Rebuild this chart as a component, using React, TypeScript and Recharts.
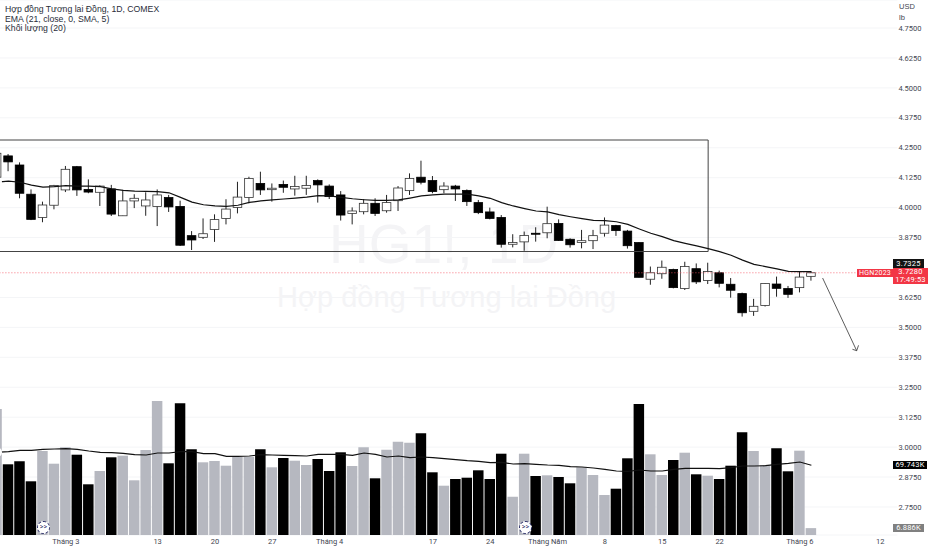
import React from 'react';
import {
  ComposedChart, Bar, Line, XAxis, YAxis, CartesianGrid, Cell, ReferenceLine,
} from 'recharts';

// day -1 is the candle cut off on the left edge, rows after day 70 are empty future slots
const FIRST_DAY = -1;
const SLOT_COUNT = 79;

const opens = [4.127, 4.216, 4.178, 4.056, 3.959, 4.010, 4.074, 4.171, 4.076, 4.064, 4.078, 3.966, 4.028, 4.007, 4.005, 4.042, 4.005, 3.883, 3.876, 3.909, 3.955, 4.001, 4.042, 4.101, 4.075, 4.097, 4.078, 4.081, 4.113, 4.090, 4.053, 3.976, 3.983, 4.018, 3.987, 4.029, 4.071, 4.127, 4.113, 4.075, 4.090, 4.072, 4.021, 3.982, 3.959, 3.847, 3.857, 3.893, 3.895, 3.934, 3.868, 3.854, 3.862, 3.893, 3.925, 3.902, 3.854, 3.701, 3.724, 3.742, 3.662, 3.745, 3.696, 3.728, 3.680, 3.641, 3.567, 3.591, 3.681, 3.662, 3.666, 3.713];
const highs = [4.232, 4.224, 4.189, 4.076, 4.025, 4.095, 4.174, 4.174, 4.118, 4.093, 4.095, 4.074, 4.056, 4.064, 4.076, 4.053, 4.029, 3.902, 3.955, 3.972, 4.035, 4.108, 4.129, 4.150, 4.101, 4.113, 4.133, 4.133, 4.118, 4.097, 4.069, 4.001, 4.035, 4.039, 4.053, 4.090, 4.143, 4.196, 4.132, 4.106, 4.095, 4.076, 4.032, 4.000, 3.969, 3.889, 3.900, 3.918, 4.004, 3.951, 3.872, 3.907, 3.907, 3.959, 3.928, 3.907, 3.855, 3.754, 3.779, 3.745, 3.774, 3.767, 3.770, 3.737, 3.706, 3.645, 3.619, 3.684, 3.712, 3.673, 3.734, 3.734];
const lows = [4.121, 4.152, 4.039, 3.948, 3.939, 3.993, 4.065, 4.049, 4.060, 4.007, 3.965, 3.965, 3.998, 3.966, 3.923, 3.982, 3.840, 3.823, 3.869, 3.857, 3.930, 3.976, 4.018, 4.053, 4.025, 4.062, 4.050, 4.053, 4.021, 4.036, 3.946, 3.930, 3.972, 3.965, 3.979, 3.986, 4.053, 4.097, 4.060, 4.060, 4.028, 4.007, 3.973, 3.951, 3.833, 3.834, 3.820, 3.858, 3.872, 3.861, 3.833, 3.830, 3.827, 3.879, 3.882, 3.829, 3.709, 3.678, 3.703, 3.663, 3.656, 3.681, 3.681, 3.667, 3.624, 3.545, 3.548, 3.587, 3.628, 3.623, 3.646, 3.695];
const closes = [4.227, 4.191, 4.060, 3.951, 4.011, 4.092, 4.160, 4.074, 4.065, 4.090, 3.973, 4.028, 4.039, 4.032, 4.053, 4.003, 3.843, 3.865, 3.891, 3.950, 3.994, 4.044, 4.122, 4.074, 4.081, 4.085, 4.088, 4.092, 4.095, 4.046, 3.969, 3.986, 4.018, 3.976, 4.021, 4.082, 4.122, 4.106, 4.067, 4.090, 4.078, 4.025, 3.979, 3.955, 3.847, 3.854, 3.884, 3.889, 3.933, 3.863, 3.845, 3.862, 3.883, 3.927, 3.904, 3.841, 3.709, 3.728, 3.751, 3.666, 3.754, 3.690, 3.733, 3.684, 3.655, 3.561, 3.588, 3.683, 3.663, 3.638, 3.710, 3.728];
const ema21 = [4.106, 4.111, 4.106, 4.094, 4.086, 4.088, 4.092, 4.090, 4.090, 4.088, 4.078, 4.072, 4.069, 4.068, 4.067, 4.062, 4.043, 4.023, 4.012, 4.007, 4.005, 4.010, 4.022, 4.028, 4.032, 4.036, 4.040, 4.044, 4.050, 4.049, 4.043, 4.037, 4.033, 4.030, 4.030, 4.032, 4.040, 4.049, 4.053, 4.056, 4.057, 4.056, 4.049, 4.039, 4.021, 4.007, 3.996, 3.986, 3.982, 3.971, 3.962, 3.954, 3.947, 3.946, 3.941, 3.930, 3.911, 3.893, 3.879, 3.862, 3.851, 3.840, 3.829, 3.816, 3.801, 3.781, 3.763, 3.754, 3.744, 3.734, 3.733, 3.7325];
const volumes = [126, 70.7, 73.7, 53.7, 84, 71.3, 87.7, 80.3, 50.7, 64, 77.7, 79.3, 54.7, 85, 134, 71.7, 131.7, 85.7, 72.7, 74, 69.3, 78.3, 78.3, 85.7, 67.7, 77, 74.3, 70, 76, 64, 82.7, 69, 87.7, 56.7, 85.3, 93.3, 92.3, 101.7, 62.7, 49.3, 56, 57.3, 64.7, 56, 81.3, 38.3, 81.3, 59, 59.7, 58, 51.7, 67.7, 60, 40, 46.3, 76.7, 131, 80.7, 60, 75, 82.3, 60.7, 59.3, 56, 69.3, 102.7, 84, 70, 86.7, 63.7, 84.3, 6.886];
const volumeMa = [82.7, 83.3, 84.7, 84.7, 85.7, 86, 86.3, 85.7, 84, 82.7, 82.3, 81.7, 80.3, 80, 82, 82, 83.3, 83.3, 81.3, 81.3, 78.7, 78.7, 79, 80.3, 80, 79.7, 79.3, 79, 80.7, 80.7, 80.7, 79.7, 82, 80.7, 78, 79, 77.3, 78, 77.3, 76.3, 75.3, 74.3, 73.7, 72.3, 72.7, 71, 71.3, 70.7, 70, 69.7, 68.3, 68, 67, 65.7, 64, 63.7, 65, 64, 64, 65.7, 66.7, 66.7, 66.7, 66.3, 67.3, 69, 69, 69.3, 70.7, 71.7, 73, 69.743];

const priceTicks = [4.75, 4.625, 4.5, 4.375, 4.25, 4.125, 4.0, 3.875, 3.625, 3.5, 3.375, 3.25, 3.125, 3.0, 2.875, 2.75];
const dateTicks = [5, 13, 18, 23, 28, 37, 42, 47, 52, 57, 62, 69, 76];
const dateLabels = ['Tháng 3', '13', '20', '27', 'Tháng 4', '17', '24', 'Tháng Năm', '8', '15', '22', 'Tháng 6', '12'];

// drawings on the chart
const boxTop = 4.2824;
const boxBottom = 3.8168;
const boxLeftDay = -1.5;
const boxRightDay = 61;
const lastPrice = 3.728;
const arrowFrom = { day: 70.98, price: 3.706 };
const arrowTip = { day: 73.95, price: 3.4026 };
const arrowBarbs = [{ day: 73.58, price: 3.4085 }, { day: 74.11, price: 3.425 }];
const boxEdges = [
  [{ x: boxLeftDay, y: boxTop }, { x: boxRightDay, y: boxTop }],
  [{ x: boxLeftDay, y: boxBottom }, { x: boxRightDay, y: boxBottom }],
  [{ x: boxRightDay, y: boxTop }, { x: boxRightDay, y: boxBottom }],
];

const rows = Array.from({ length: SLOT_COUNT }, (_, n) => ({
  day: n + FIRST_DAY,
  open: opens[n],
  high: highs[n],
  low: lows[n],
  close: closes[n],
  ema: ema21[n],
  volume: volumes[n],
  volumeMa: volumeMa[n],
}));

const AXIS_TEXT = '#434651';
const GREY_VOL = '#b6b8c0';

function Candle(props: any) {
  const { x, y, width, height, payload } = props;
  if (payload.open === undefined || !height) return null;
  const pxPerUnit = height / (payload.high - payload.low);
  const top = y + (payload.high - Math.max(payload.open, payload.close)) * pxPerUnit;
  const bodyH = Math.max(Math.abs(payload.open - payload.close) * pxPerUnit, 1);
  const mid = x + width / 2;
  const up = payload.close >= payload.open;
  return (
    <g>
      <line x1={mid} x2={mid} y1={y} y2={y + height} stroke="#222" strokeWidth={1} />
      <rect x={x} y={top} width={width} height={bodyH} fill={up ? '#fff' : '#000'} stroke={up ? '#333' : '#000'} strokeWidth={0.8} />
    </g>
  );
}

function Tag({ left, top, width, height, bg, color = '#fff', children, size = 7.5 }: any) {
  return (
    <div style={{
      position: 'absolute', left, top, width, height, background: bg, color, fontSize: size,
      lineHeight: height + 'px', textAlign: 'center', fontFamily: 'Roboto, sans-serif', letterSpacing: 0.2,
    }}>{children}</div>
  );
}

function Marker({ left }: { left: number }) {
  return (
    <div style={{
      position: 'absolute', left, top: 521, width: 11, height: 11, borderRadius: '50%', background: '#fff',
      border: '1px dashed #2a2e6a', color: '#2a2e6a', fontSize: 7, lineHeight: '11px', textAlign: 'center',
      fontFamily: 'Roboto, sans-serif',
    }}>{'>>'}</div>
  );
}

function Text({ left, top, size, color, children }: any) {
  return (
    <div style={{ position: 'absolute', left, top, fontSize: size, color, whiteSpace: 'nowrap', lineHeight: 1, fontFamily: '"Liberation Sans", sans-serif' }}>
      {children}
    </div>
  );
}

export default function App() {
  return (
    <div style={{ position: 'relative', width: 932, height: 550, overflow: 'hidden', background: '#fff' }}>
      <style>{'body{margin:0}'}</style>

      {/* watermark sits behind the chart */}
      <Text left={329} top={217} size={55} color="#f4f4f6">HG1!, 1D</Text>
      <Text left={277} top={283} size={29} color="#f4f4f6">Hợp đồng Tương lai Đồng</Text>

      <div style={{ position: 'absolute', left: 0, top: 0 }}>
        <ComposedChart width={932} height={550} data={rows} margin={{ top: 0, right: 0, bottom: 0, left: -8.7 }}>
          <XAxis
            xAxisId="main"
            dataKey="day"
            type="category"
            ticks={dateTicks}
            interval={0}
            height={15}
            tickSize={0}
            tickMargin={4}
            axisLine={false}
            tickLine={false}
            tick={{ fontSize: 7.5, fill: AXIS_TEXT, fontFamily: 'Roboto' }}
            tickFormatter={(d: number) => dateLabels[dateTicks.indexOf(d)] ?? ''}
          />
          <XAxis xAxisId="candles" dataKey="day" type="category" height={0} hide />
          <XAxis xAxisId="draw" dataKey="day" type="number" domain={[-1.5, 77.5]} allowDataOverflow height={0} hide />
          <YAxis
            yAxisId="price"
            orientation="right"
            width={34.6}
            domain={[2.633, 4.867]}
            allowDataOverflow
            ticks={priceTicks}
            interval={0}
            tickSize={0}
            tickMargin={1}
            axisLine={false}
            tickLine={false}
            tick={{ fontSize: 7.5, fill: AXIS_TEXT, fontFamily: 'Roboto', textAnchor: 'start' }}
            tickFormatter={(v: number) => v.toFixed(4)}
          />
          <YAxis yAxisId="volume" domain={[0, 535]} allowDataOverflow hide />

          <CartesianGrid xAxisId="main" yAxisId="price" vertical={false} stroke="#f4f5f7" />

          <Bar xAxisId="main" yAxisId="volume" dataKey="volume" barSize={10.5} isAnimationActive={false}>
            {rows.map((r) => (
              <Cell key={r.day} fill={r.close >= r.open ? GREY_VOL : '#000'} />
            ))}
          </Bar>
          <Line xAxisId="main" yAxisId="volume" dataKey="volumeMa" stroke="#111" strokeWidth={1.2} dot={false} isAnimationActive={false} />

          <ReferenceLine xAxisId="draw" yAxisId="price" y={lastPrice} stroke="#f7525f" strokeDasharray="1 2" strokeWidth={0.8} />
          {boxEdges.map((edge, n) => (
            <ReferenceLine key={n} xAxisId="draw" yAxisId="price" stroke="#444" strokeWidth={1} segment={edge} />
          ))}

          <Bar
            xAxisId="candles"
            yAxisId="price"
            dataKey={(r: any) => (r.open === undefined ? null : [r.low, r.high])}
            barSize={8.6}
            shape={<Candle />}
            isAnimationActive={false}
          />
          <Line xAxisId="candles" yAxisId="price" dataKey="ema" stroke="#111" strokeWidth={1.2} dot={false} isAnimationActive={false} />

          <ReferenceLine
            xAxisId="draw"
            yAxisId="price"
            stroke="#333"
            strokeWidth={0.8}
            segment={[{ x: arrowFrom.day, y: arrowFrom.price }, { x: arrowTip.day, y: arrowTip.price }]}
          />
          {arrowBarbs.map((b) => (
            <ReferenceLine
              key={b.day}
              xAxisId="draw"
              yAxisId="price"
              stroke="#333"
              strokeWidth={0.8}
              segment={[{ x: b.day, y: b.price }, { x: arrowTip.day, y: arrowTip.price }]}
            />
          ))}
        </ComposedChart>
      </div>

      <Text left={5} top={5} size={8.7} color="#2a2e39">Hợp đồng Tương lai Đồng, 1D, COMEX</Text>
      <Text left={5} top={14.5} size={8.7} color="#2a2e39">EMA (21, close, 0, SMA, 5)</Text>
      <Text left={5} top={23.5} size={8.7} color="#2a2e39">Khối lượng (20)</Text>

      <Text left={899} top={3} size={7.5} color={AXIS_TEXT}>USD</Text>
      <Text left={899} top={14} size={7.5} color={AXIS_TEXT}>lb</Text>

      <Marker left={37} />
      <Marker left={519} />

      <Tag left={893} top={259} width={31} height={9} bg="#131313">3.7325</Tag>
      <Tag left={857} top={269} width={36} height={8} bg="#f23645" size={7}>HGN2023</Tag>
      <Tag left={893} top={268} width={35} height={8} bg="#f23645">3.7280</Tag>
      <Tag left={893} top={276} width={35} height={8} bg="#f23645">17:49:53</Tag>
      <Tag left={893} top={461} width={34} height={8} bg="#000">69.743K</Tag>
      <Tag left={893} top={524} width={31} height={8} bg="#808080">6.886K</Tag>
    </div>
  );
}
